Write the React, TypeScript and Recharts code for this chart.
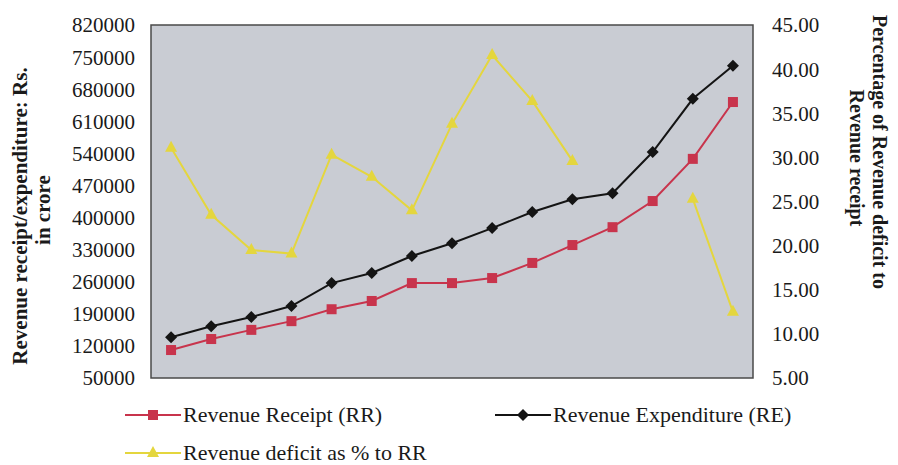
import React from 'react';
import { LineChart, Line, XAxis, YAxis, ReferenceArea } from 'recharts';

// 15 years, no category labels shown on the x axis
const years: number[] = [1, 2, 3, 4, 5, 6, 7, 8, 9, 10, 11, 12, 13, 14, 15];

// Revenue Receipt (Rs. crore)
const receipt: number[] = [111000, 135000, 155000, 174000, 200000, 218000, 257000, 257000, 268000, 301000, 340000, 379000, 436000, 528000, 652000];

// Revenue Expenditure (Rs. crore)
const expenditure: number[] = [139000, 163000, 183000, 207000, 257000, 279000, 316000, 344000, 377000, 412000, 440000, 453000, 543000, 659000, 731000];

// Revenue deficit as % of RR (missing values left as null)
const deficitPct: (number | null)[] = [31.1, 23.5, 19.5, 19.1, 30.3, 27.8, 24.0, 33.8, 41.6, 36.4, 29.6, null, null, 25.3, 12.5];

const leftTicks: number[] = [50000, 120000, 190000, 260000, 330000, 400000, 470000, 540000, 610000, 680000, 750000, 820000];
const rightTicks: number[] = [5, 10, 15, 20, 25, 30, 35, 40, 45];

const data = years.map((y, i) => ({
  year: y,
  rr: receipt[i],
  re: expenditure[i],
  pct: deficitPct[i],
}));

const FONT = '"Liberation Serif", "Times New Roman", serif';
const RED = '#c8344c';
const BLACK = '#141414';
const YELLOW = '#e4d63e';

const Square = (props: any) => {
  const { cx, cy } = props;
  if (cx == null || cy == null) return null;
  return <rect x={cx - 5} y={cy - 5} width={10} height={10} fill={RED} />;
};

const Diamond = (props: any) => {
  const { cx, cy } = props;
  if (cx == null || cy == null) return null;
  return <path d={`M${cx},${cy - 6}L${cx + 6},${cy}L${cx},${cy + 6}L${cx - 6},${cy}Z`} fill={BLACK} />;
};

const Triangle = (props: any) => {
  const { cx, cy, value } = props;
  if (cx == null || cy == null || value == null) return null;
  return <path d={`M${cx},${cy - 7}L${cx + 6},${cy + 4}L${cx - 6},${cy + 4}Z`} fill={YELLOW} />;
};

const LeftTitle = () => (
  <g fontFamily={FONT} fontWeight="bold" fontSize={21} fill="#1a1a1a">
    <text x={20} y={216} transform="rotate(-90 20 216)" textAnchor="middle" dominantBaseline="central">
      Revenue receipt/expenditure: Rs.
    </text>
    <text x={43} y={210} transform="rotate(-90 43 210)" textAnchor="middle" dominantBaseline="central">
      in crore
    </text>
  </g>
);

const RightTitle = () => (
  <g fontFamily={FONT} fontWeight="bold" fontSize={20} fill="#1a1a1a">
    <text x={880} y={152} transform="rotate(90 880 152)" textAnchor="middle" dominantBaseline="central">
      Percentage of Revenue deficit to
    </text>
    <text x={857} y={158} transform="rotate(90 857 158)" textAnchor="middle" dominantBaseline="central">
      Revenue receipt
    </text>
  </g>
);

const legendItems = [
  { name: 'Revenue Receipt (RR)', color: RED, shape: 'square', left: 125, top: 415 },
  { name: 'Revenue Expenditure (RE)', color: BLACK, shape: 'diamond', left: 495, top: 415 },
  { name: 'Revenue deficit as % to RR', color: YELLOW, shape: 'triangle', left: 125, top: 453 },
];

const LegendIcon = ({ color, shape }: { color: string; shape: string }) => (
  <svg width={56} height={16} style={{ display: 'block' }}>
    <line x1={0} y1={8} x2={56} y2={8} stroke={color} strokeWidth={2} />
    {shape === 'square' && <rect x={23} y={3} width={10} height={10} fill={color} />}
    {shape === 'diamond' && <path d="M28,2L34,8L28,14L22,8Z" fill={color} />}
    {shape === 'triangle' && <path d="M28,1L34,12L22,12Z" fill={color} />}
  </svg>
);

export default function App() {
  return (
    <div style={{ position: 'absolute', left: 0, top: 0, width: 898, height: 465, background: '#fff' }}>
      <LineChart width={898} height={465} data={data} margin={{ top: 25, right: 65, left: 71, bottom: 87 }}>
        <XAxis dataKey="year" type="number" domain={[0.5, 15.5]} hide />
        <YAxis
          yAxisId="left"
          width={80}
          domain={[50000, 820000]}
          ticks={leftTicks}
          interval={0}
          axisLine={false}
          tickLine={false}
          tickSize={0}
          tickMargin={16}
          tick={{ fontFamily: FONT, fontSize: 21, fill: '#1a1a1a' }}
        />
        <YAxis
          yAxisId="right"
          orientation="right"
          width={80}
          domain={[5, 45]}
          ticks={rightTicks}
          interval={0}
          axisLine={false}
          tickLine={false}
          tickSize={0}
          tickMargin={19}
          tickFormatter={(v: number) => v.toFixed(2)}
          tick={{ fontFamily: FONT, fontSize: 21, fill: '#1a1a1a', textAnchor: 'start' }}
        />
        <ReferenceArea yAxisId="left" x1={0.5} x2={15.5} y1={50000} y2={820000} fill="#c9ccd3" fillOpacity={1} stroke="#4a4a4a" strokeWidth={1.5} />
        <Line yAxisId="left" type="linear" dataKey="rr" stroke={RED} strokeWidth={2} dot={<Square />} isAnimationActive={false} />
        <Line yAxisId="left" type="linear" dataKey="re" stroke={BLACK} strokeWidth={2} dot={<Diamond />} isAnimationActive={false} />
        <Line yAxisId="right" type="linear" dataKey="pct" stroke={YELLOW} strokeWidth={2} dot={<Triangle />} isAnimationActive={false} />
        <LeftTitle />
        <RightTitle />
      </LineChart>
      {legendItems.map((item) => (
        <div
          key={item.name}
          style={{
            position: 'absolute',
            left: item.left,
            top: item.top - 13,
            height: 26,
            display: 'flex',
            alignItems: 'center',
            fontFamily: FONT,
            fontSize: 22,
            color: '#1a1a1a',
            whiteSpace: 'nowrap',
          }}
        >
          <LegendIcon color={item.color} shape={item.shape} />
          <span style={{ marginLeft: 2 }}>{item.name}</span>
        </div>
      ))}
    </div>
  );
}
